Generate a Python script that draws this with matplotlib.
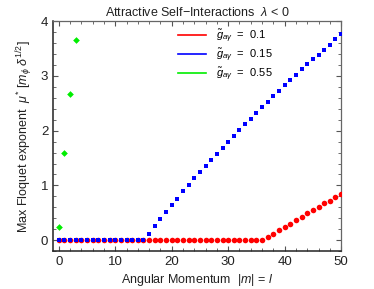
import matplotlib
matplotlib.use("Agg")
import matplotlib.pyplot as plt
from matplotlib.ticker import MultipleLocator
import numpy as np

plt.rcParams['font.family'] = ['Liberation Sans', 'DejaVu Sans']
plt.rcParams['mathtext.fontset'] = 'custom'
plt.rcParams['mathtext.rm'] = 'Liberation Sans'
plt.rcParams['mathtext.it'] = 'Liberation Sans:italic'

# data
m_vals = list(range(0, 51))

# g = 0.1 (red): zero up to m = 36
red_tail = [0.05, 0.12, 0.18, 0.24, 0.30, 0.37, 0.43, 0.49, 0.55, 0.61,
            0.67, 0.72, 0.79, 0.85]
red_mu = [0.0] * 37 + red_tail

# g = 0.15 (blue): zero up to m = 15
blue_tail = [0.12, 0.25, 0.38, 0.51, 0.64, 0.76, 0.89, 1.01, 1.13, 1.24,
             1.36, 1.47, 1.58, 1.69, 1.80, 1.91, 2.01, 2.12, 2.22, 2.33,
             2.43, 2.53, 2.63, 2.73, 2.83, 2.92, 3.02, 3.12, 3.21, 3.30,
             3.39, 3.48, 3.57, 3.67, 3.76]
blue_mu = [0.0] * 16 + blue_tail

# g = 0.55 (green): only the first few modes
green_m = [0, 1, 2, 3]
green_mu = [0.24, 1.59, 2.67, 3.65]

labels = [r'$\tilde{g}_{a\gamma}$  =  0.1',
          r'$\tilde{g}_{a\gamma}$  =  0.15',
          r'$\tilde{g}_{a\gamma}$  =  0.55']
colors = ['#ff0000', '#0000ff', '#00ee00']

fig = plt.figure(figsize=(3.74, 2.89), dpi=100)
ax = fig.add_axes([0.142, 0.131, 0.770, 0.796])

ax.plot(m_vals, red_mu, 'o', color=colors[0], ms=4.0, mew=0, zorder=3)
ax.plot(m_vals, blue_mu, 's', color=colors[1], ms=2.8, mew=0, zorder=4)
ax.plot(green_m, green_mu, 'D', color=colors[2], ms=3.4, mew=0, zorder=5)

# legend uses plain lines
for c, lab in zip(colors, labels):
    ax.plot([], [], '-', color=c, lw=1.2, label=lab)
ax.legend(loc='upper left', bbox_to_anchor=(0.40, 1.015), frameon=False,
          fontsize=8, handlelength=2.5, handletextpad=0.9,
          labelspacing=0.12)

ax.set_xlim(-1, 50)
ax.set_ylim(-0.2, 4)
ax.xaxis.set_major_locator(MultipleLocator(10))
ax.xaxis.set_minor_locator(MultipleLocator(2))
ax.yaxis.set_major_locator(MultipleLocator(1))
ax.yaxis.set_minor_locator(MultipleLocator(0.2))
ax.tick_params(which='both', direction='in', top=True, right=True,
               colors='#555555', labelcolor='#222222', labelsize=9.5)
ax.tick_params(which='major', length=3.5, width=0.8)
ax.tick_params(which='minor', length=2, width=0.6)

for s in ['left', 'bottom']:
    ax.spines[s].set_color('#222222')
    ax.spines[s].set_linewidth(1.1)
for s in ['top', 'right']:
    ax.spines[s].set_color('#666666')
    ax.spines[s].set_linewidth(0.9)

ax.set_title(r'Attractive Self$-$Interactions  $\lambda$ < 0', fontsize=9,
             pad=4, color='#222222')
ax.set_xlabel(r'Angular Momentum  $|m|$ = $l$', fontsize=9, color='#222222',
              labelpad=3)
ax.set_ylabel(r'Max Floquet exponent  $\mu^{*}$ [$m_\phi$ $\delta^{1/2}$]',
              fontsize=9, color='#222222', labelpad=4)

fig.savefig('out.png', dpi=100)
